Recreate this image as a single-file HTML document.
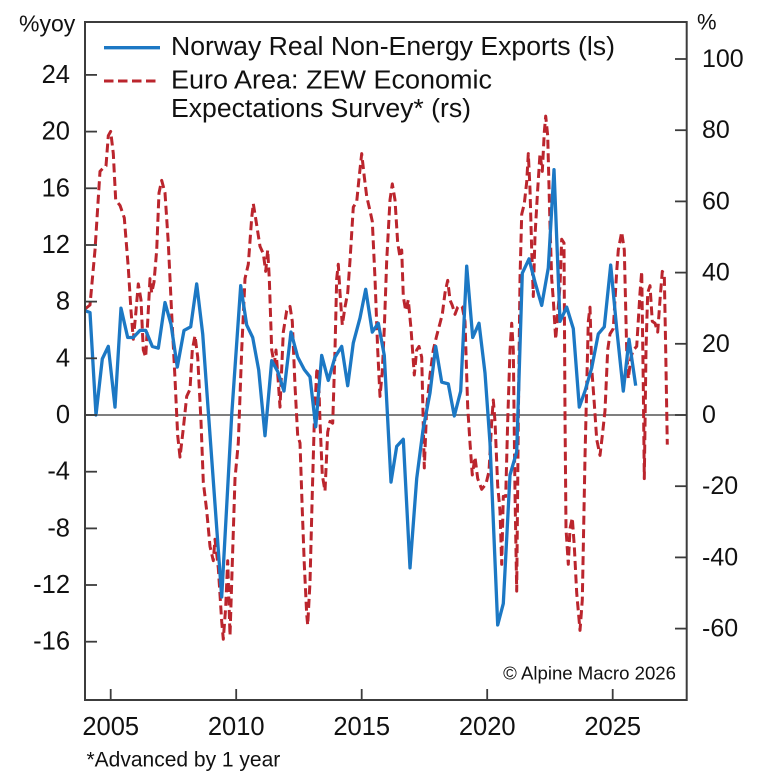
<!DOCTYPE html>
<html>
<head>
<meta charset="utf-8">
<style>
  html,body{margin:0;padding:0;background:#fff;}
  svg{display:block;}
  text{font-family:"Liberation Sans",Arial,sans-serif;fill:#111;}
</style>
</head>
<body>
<svg width="768" height="776" viewBox="0 0 768 776" xmlns="http://www.w3.org/2000/svg">
  <rect x="0" y="0" width="768" height="776" fill="#fff"/>

  <!-- zero line -->
  <line x1="85" y1="415" x2="686.7" y2="415" stroke="#555" stroke-width="1.6"/>

  <!-- red dashed ZEW series -->
  <polyline fill="none" stroke="#bb252d" stroke-width="3" stroke-dasharray="9 4.5" stroke-linejoin="round"
    points="85,309 90,305 95,250 100,171.4 103.3,167.9 106,166 108.3,135.7 110.7,131.4 113.3,153.6 115.7,200 120,205.4 124.3,217.9 128.3,267.9 131,310.7 133.3,339.3 135.7,314.3 138.3,283.9 141,300 143.3,350 145.7,357.1 147.7,321.4 150,278.6 151.7,292.9 154,282.1 156.7,250 159,192.9 161.7,180.4 165,192.9 168.3,242.9 171.7,314.3 175,378.6 177.7,435.7 180,457.1 183.3,428.6 186.7,396.4 190,389.3 192.3,350 195,335.7 197.7,357.1 201,421.4 203.3,482.1 206.7,510.7 210,546.4 213.3,560.7 215,539.3 218.3,567.9 221.7,621.4 223.3,639.3 225.7,607.1 227.7,560.7 230,635.7 231.7,582.1 235,478.6 238.3,442.9 241.7,350 245,278.6 248.3,264.3 251.7,217.9 253.3,203.6 256.7,225 260,246.4 263.3,253.6 265.7,271.4 267.7,250 269.3,278.6 271.7,350 274.3,364.3 276,350 278.3,382.1 280,407.1 283.3,332.1 286.7,310.7 290,306.4 292.3,321.4 295,385.7 297.7,435.7 300,442.9 302.3,510.7 304.3,564.3 306.7,614.3 307.7,625 310,582.1 312.3,492.9 314.3,421.4 316.7,371.4 318.3,367.9 320,421.4 322.3,475 325,491.1 327.7,432.1 330,421.4 332.7,423.2 335,350 336.7,278.6 338.3,264.3 340,292.9 342.3,325 345,307.1 347.7,292.9 350,260.7 353.3,207.1 356.7,201.8 359,178.6 361.7,153.6 364.3,176.8 366.7,196.4 370,210.7 372.3,221.4 375,278.6 377.7,350 380,396.4 382.3,371.4 384.3,328.6 386.7,260.7 390,200 392.3,183.9 395,200 397.7,242.9 400,257.1 401.7,250 403.3,296.4 405.7,310.7 408.3,300 411,328.6 414.3,375 416.7,350 419,346.4 421.7,357.1 424.3,467.9 426.7,407.1 430,375 433.3,350 436.7,335.7 440,323.2 442.3,314.3 445,292.9 447.7,280.4 450,300 452.3,305.4 455,314.3 457.7,307.1 460,305.4 462.3,307.1 465,321.4 467.7,407.1 470,442.9 472.3,475 475,457.1 477.7,478.6 481.7,489.3 486,483.9 489,471.4 491.7,421.4 493.3,400 495,421.4 497.7,485.7 500,510.7 501.7,564.3 503.3,496.4 505.7,496.4 507.7,421.4 510,350 511.7,323.2 513.3,350 515,492.9 516.7,591.1 518.3,421.4 520,278.6 521.7,214.3 524.3,203.6 526.7,182.1 528.3,153.6 530,189.3 531.7,250 533.3,296.4 535,235.7 537.7,189.3 540,153.6 542.3,171.4 544.3,132.1 545.7,116.1 547.7,135.7 550,225 551.7,278.6 553.3,300 555.7,339.3 557.7,314.3 560,285.7 561.7,239.3 564,242.9 565,414.3 566,528.6 568.3,564.3 570,528.6 572.3,517.9 574.3,546.4 576.7,592.9 580,630.4 582.3,600 585,457.1 588.3,321.4 590,307.1 591.7,367.9 594.3,403.6 596.7,439.3 600,455.4 602.3,435.7 605,410.7 607.7,350 610,333.9 613.3,328.6 616.7,271.4 618.3,250 621.7,232.1 624.3,250 626.7,350 628.3,378.6 631,357.1 633.3,350 636.7,346.4 640,292.9 641.7,271.4 643.3,385.7 644.3,478.6 646,350 647.7,292.9 650,285.7 652.3,321.4 655,323.2 657.7,332.1 660,300 662.3,271.4 664.3,275 665.7,350 667.3,444.6"/>

  <!-- blue Norway series -->
  <polyline fill="none" stroke="#1c78c4" stroke-width="3.3" stroke-linejoin="round"
    points="85,310.7 90,312.5 96,415 102.3,358.9 108.3,346.4 115,407.1 121,308.2 127.7,337.5 133.3,337.5 140,330.4 145.7,330.4 152.3,346.4 158.3,348.2 165,302.5 171,324.3 177.3,367.1 184,330.4 190.7,326.8 196.7,283.9 202.7,333.9 221.7,597 231.7,415 240.7,285.7 246.7,325 252.7,337.5 258.7,370 265,435.7 271.7,360.7 277.7,371.4 284,391.1 291,332 297.7,357 304.3,369.6 310,376.8 315.7,426.8 321.7,355.4 328.3,380.4 335,357.1 341.7,346.4 347.7,385.7 353.3,342.9 360,317.9 365.7,289.3 372.3,332.1 378.3,323.2 384.3,355.4 391,482.1 396.7,446.4 403.3,439.3 410,567.9 416.7,478.6 423,430 430,392.9 435.7,346.4 441.7,382.1 448.3,383.9 454.3,416 460.7,391.1 466.7,266.1 472.7,337.5 479,323.2 485,373 490,442.9 497.7,625 503.3,603.6 510,475 516.7,451.8 522.3,273.2 529,258.9 535,282.1 541.7,305.4 548.3,267.9 554,169.6 560,321.4 566.7,307.1 573.3,328.6 579.3,407.1 585,391.1 591.7,367.9 598.3,333.9 604.3,326.8 610.7,265 616.7,328.6 623.3,391.1 629,339.3 635.7,385.7"/>

  <!-- frame -->
  <rect x="85" y="22" width="601.7" height="678" fill="none" stroke="#3c3c3c" stroke-width="2"/>

  <!-- ticks -->
  <g stroke="#3c3c3c" stroke-width="1.8">
    <line x1="85" y1="74.9" x2="97" y2="74.9"/>
    <line x1="85" y1="131.6" x2="97" y2="131.6"/>
    <line x1="85" y1="188.3" x2="97" y2="188.3"/>
    <line x1="85" y1="245" x2="97" y2="245"/>
    <line x1="85" y1="301.6" x2="97" y2="301.6"/>
    <line x1="85" y1="358.3" x2="97" y2="358.3"/>
    <line x1="85" y1="415" x2="97" y2="415"/>
    <line x1="85" y1="471.7" x2="97" y2="471.7"/>
    <line x1="85" y1="528.4" x2="97" y2="528.4"/>
    <line x1="85" y1="585" x2="97" y2="585"/>
    <line x1="85" y1="641.7" x2="97" y2="641.7"/>
    <line x1="675" y1="59" x2="686.7" y2="59"/>
    <line x1="675" y1="130.2" x2="686.7" y2="130.2"/>
    <line x1="675" y1="201.4" x2="686.7" y2="201.4"/>
    <line x1="675" y1="272.6" x2="686.7" y2="272.6"/>
    <line x1="675" y1="343.8" x2="686.7" y2="343.8"/>
    <line x1="675" y1="415" x2="686.7" y2="415"/>
    <line x1="675" y1="486.2" x2="686.7" y2="486.2"/>
    <line x1="675" y1="557.4" x2="686.7" y2="557.4"/>
    <line x1="675" y1="628.6" x2="686.7" y2="628.6"/>
    <line x1="110.7" y1="700" x2="110.7" y2="689"/>
    <line x1="236.2" y1="700" x2="236.2" y2="689"/>
    <line x1="361.7" y1="700" x2="361.7" y2="689"/>
    <line x1="487.2" y1="700" x2="487.2" y2="689"/>
    <line x1="612.7" y1="700" x2="612.7" y2="689"/>
  </g>

  <!-- left labels -->
  <g font-size="25.5" text-anchor="end">
    <text x="70" y="83">24</text>
    <text x="70" y="139.6">20</text>
    <text x="70" y="196.3">16</text>
    <text x="70" y="253">12</text>
    <text x="70" y="309.6">8</text>
    <text x="70" y="366.3">4</text>
    <text x="70" y="423">0</text>
    <text x="70" y="479.7">-4</text>
    <text x="70" y="536.4">-8</text>
    <text x="70" y="593">-12</text>
    <text x="70" y="649.7">-16</text>
  </g>
  <text x="19" y="31.5" font-size="23">%yoy</text>

  <!-- right labels -->
  <g font-size="25" text-anchor="start">
    <text x="702" y="67">100</text>
    <text x="702" y="138.2">80</text>
    <text x="702" y="209.4">60</text>
    <text x="702" y="280.6">40</text>
    <text x="702" y="351.8">20</text>
    <text x="702" y="423">0</text>
    <text x="702" y="494.2">-20</text>
    <text x="702" y="565.4">-40</text>
    <text x="702" y="636.6">-60</text>
  </g>
  <text x="697" y="29.5" font-size="22">%</text>

  <!-- x labels -->
  <g font-size="25.5" text-anchor="middle">
    <text x="110.7" y="735">2005</text>
    <text x="236.2" y="735">2010</text>
    <text x="361.7" y="735">2015</text>
    <text x="487.2" y="735">2020</text>
    <text x="612.7" y="735">2025</text>
  </g>

  <!-- footnote and copyright -->
  <text x="86.5" y="766.5" font-size="21">*Advanced by 1 year</text>
  <text x="676" y="679.3" font-size="18.6" text-anchor="end" fill="#222">© Alpine Macro 2026</text>

  <!-- legend -->
  <line x1="104" y1="47.7" x2="160" y2="47.7" stroke="#1c78c4" stroke-width="3.3"/>
  <line x1="104" y1="81" x2="160" y2="81" stroke="#bb252d" stroke-width="3" stroke-dasharray="9.5 4.5"/>
  <g font-size="25.5">
    <text x="171" y="55" textLength="444" lengthAdjust="spacingAndGlyphs">Norway Real Non-Energy Exports (ls)</text>
    <text x="171" y="88.5" textLength="321" lengthAdjust="spacingAndGlyphs">Euro Area: ZEW Economic</text>
    <text x="171" y="117" textLength="300" lengthAdjust="spacingAndGlyphs">Expectations Survey* (rs)</text>
  </g>
</svg>
</body>
</html>
